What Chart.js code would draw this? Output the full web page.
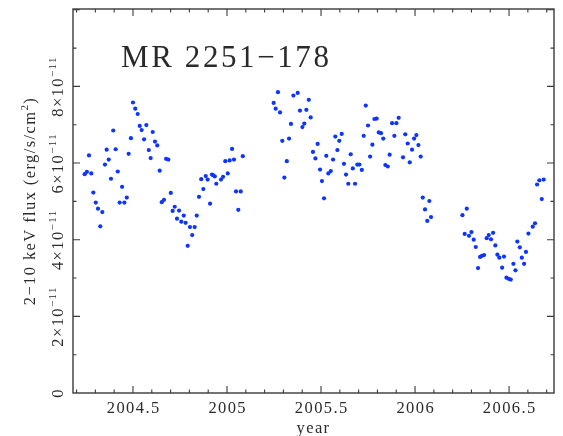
<!DOCTYPE html>
<html>
<head>
<meta charset="utf-8">
<script src="https://cdn.jsdelivr.net/npm/chart.js@4"></script>
<style>
  html, body { margin: 0; padding: 0; background: #fff; }
  #lc { display: block; }
</style>
</head>
<body>
<canvas id="lc" width="563" height="436"></canvas>
<script>
// MR 2251-178 light curve, 2-10 keV
const sourceName = 'MR 2251\u2212178';
const xTitle = 'year';
const yTitleMain = '2\u221210 keV flux (erg/s/cm';
const yTitleSup = '2';
const yTitleEnd = ')';

const xTickYears = [2004.5, 2005, 2005.5, 2006, 2006.5];
const yTickFlux = [0, 2, 4, 6, 8];   // units of 1e-11
const yTickExp = '\u221211';

const years = [
  2004.243, 2004.255, 2004.266, 2004.278, 2004.289, 2004.302, 2004.314, 2004.326, 2004.337, 2004.351,
  2004.360, 2004.371, 2004.383, 2004.395, 2004.408, 2004.419, 2004.429, 2004.442, 2004.454, 2004.467,
  2004.477, 2004.489, 2004.500, 2004.512, 2004.525, 2004.536, 2004.546, 2004.559, 2004.571, 2004.584,
  2004.594, 2004.605, 2004.617, 2004.629, 2004.642, 2004.653, 2004.665, 2004.676, 2004.688, 2004.701,
  2004.711, 2004.722, 2004.734, 2004.745, 2004.757, 2004.770, 2004.780, 2004.791, 2004.803, 2004.815,
  2004.828, 2004.839, 2004.851, 2004.863, 2004.874, 2004.887, 2004.897, 2004.910, 2004.920, 2004.927,
  2004.935, 2004.943, 2004.968, 2004.979, 2004.991, 2005.004, 2005.014, 2005.027, 2005.037, 2005.048,
  2005.060, 2005.073, 2005.084,
  2005.248, 2005.259, 2005.271, 2005.282, 2005.294, 2005.305, 2005.318, 2005.330, 2005.340, 2005.353,
  2005.376, 2005.388, 2005.401, 2005.411, 2005.422, 2005.435, 2005.445, 2005.457, 2005.470, 2005.482,
  2005.495, 2005.505, 2005.516, 2005.528, 2005.539, 2005.552, 2005.564, 2005.576, 2005.587, 2005.597,
  2005.610, 2005.622, 2005.633, 2005.645, 2005.658, 2005.669, 2005.681, 2005.693, 2005.704, 2005.717,
  2005.727, 2005.738, 2005.750, 2005.761, 2005.773, 2005.784, 2005.796, 2005.807, 2005.819, 2005.831,
  2005.842, 2005.855, 2005.865, 2005.878, 2005.890, 2005.901, 2005.913, 2005.936, 2005.948, 2005.961,
  2005.972, 2005.984, 2005.995, 2006.007, 2006.018, 2006.030, 2006.041, 2006.053, 2006.065, 2006.076,
  2006.085,
  2006.252, 2006.264, 2006.275, 2006.287, 2006.300, 2006.312, 2006.323, 2006.335, 2006.346, 2006.356,
  2006.367, 2006.381, 2006.392, 2006.404, 2006.415, 2006.427, 2006.438, 2006.448, 2006.463, 2006.473,
  2006.486, 2006.498, 2006.509, 2006.523, 2006.534, 2006.544, 2006.557, 2006.568, 2006.580, 2006.590,
  2006.603, 2006.626, 2006.638, 2006.649, 2006.661, 2006.674, 2006.684
];

// 2-10 keV flux, 1e-11 erg/s/cm^2
const flux = [
  5.71, 5.77, 6.20, 5.73, 5.23, 4.97, 4.81, 4.35, 4.72, 5.96,
  6.35, 6.09, 5.59, 6.85, 6.36, 5.78, 4.97, 5.38, 4.97, 5.10,
  6.24, 6.65, 7.58, 7.42, 7.28, 6.97, 6.86, 6.62, 6.99, 6.34,
  6.13, 6.81, 6.56, 6.46, 5.80, 4.98, 5.04, 6.11, 6.09, 5.22,
  4.75, 4.86, 4.55, 4.76, 4.47, 4.63, 4.44, 3.84, 4.33, 4.12,
  4.33, 4.63, 5.12, 5.58, 5.32, 5.66, 5.57, 4.94, 5.70, 5.68,
  5.65, 5.46, 5.57, 5.64, 6.05, 5.73, 6.07, 6.37, 6.09, 5.26,
  4.78, 5.26, 6.18,
  7.57, 7.42, 7.85, 7.32, 6.58, 5.62, 6.05, 6.64, 7.02, 7.76,
  7.83, 7.37, 6.94, 7.03, 7.39, 7.65, 7.19, 6.29, 6.12, 6.50,
  5.83, 5.53, 5.08, 6.19, 5.73, 5.79, 6.09, 6.69, 6.34, 6.58,
  6.76, 5.98, 5.70, 5.46, 6.23, 5.86, 5.46, 5.96, 5.96, 5.82,
  6.71, 7.50, 6.98, 6.17, 6.48, 7.15, 7.16, 6.80, 6.78, 6.64,
  5.95, 5.91, 6.22, 7.04, 6.71, 7.04, 7.18, 6.15, 6.75, 6.51,
  6.02, 6.35, 6.64, 6.73, 6.47, 6.17, 5.10, 4.79, 4.49, 5.01,
  4.59,
  4.64, 4.15, 4.81, 4.10, 4.20, 4.00, 3.81, 3.26, 3.55, 3.58,
  3.60, 4.04, 4.12, 4.01, 4.18, 3.85, 3.61, 3.53, 3.27, 3.56,
  3.01, 2.98, 2.96, 3.37, 3.20, 3.95, 3.80, 3.53, 3.37, 3.68,
  4.16, 4.34, 4.43, 5.44, 5.55, 5.06, 5.57
];

const xMin = 2004.181, xMax = 2006.739;
const yMin = 0, yMax = 10.02;

const serif = '"Liberation Serif", "Times New Roman", serif';
const inkColor = '#2a2a2a';

// frame with inward ticks on all four sides, plus all the text
const pgFrame = {
  id: 'pgFrame',
  afterDraw(chart) {
    const { ctx, chartArea: a, scales } = chart;
    const xs = scales.x, ys = scales.y;
    ctx.save();
    ctx.strokeStyle = '#3a3a3a';
    ctx.lineWidth = 1.4;
    ctx.strokeRect(a.left, a.top, a.right - a.left, a.bottom - a.top);

    ctx.lineWidth = 1.1;
    ctx.beginPath();
    // x ticks every 0.1 yr, major every 0.5 yr
    for (let k = Math.ceil(xMin * 10); k <= Math.floor(xMax * 10); k++) {
      const px = xs.getPixelForValue(k / 10);
      const len = (k % 5 === 0) ? 7 : 3.5;
      ctx.moveTo(px, a.bottom); ctx.lineTo(px, a.bottom - len);
      ctx.moveTo(px, a.top); ctx.lineTo(px, a.top + len);
    }
    // y ticks every 1e-11, major every 2e-11
    for (let k = 1; k <= Math.floor(yMax); k++) {
      const py = ys.getPixelForValue(k);
      const len = (k % 2 === 0) ? 7 : 3.5;
      ctx.moveTo(a.left, py); ctx.lineTo(a.left + len, py);
      ctx.moveTo(a.right, py); ctx.lineTo(a.right - len, py);
    }
    ctx.stroke();

    ctx.fillStyle = inkColor;

    // x tick labels
    ctx.font = '16.5px ' + serif;
    ctx.letterSpacing = '1.4px';
    ctx.textAlign = 'center';
    ctx.textBaseline = 'alphabetic';
    xTickYears.forEach(v => {
      ctx.fillText(String(v), xs.getPixelForValue(v) + 0.7, a.bottom + 20);
    });
    ctx.fillText(xTitle, (a.left + a.right) / 2, a.bottom + 40);

    // y tick labels, rotated, with a superscript exponent
    yTickFlux.forEach(v => {
      const py = ys.getPixelForValue(v);
      ctx.save();
      ctx.translate(a.left - 10, py);
      ctx.rotate(-Math.PI / 2);
      ctx.textAlign = 'left';
      if (v === 0) {
        ctx.font = '16.5px ' + serif;
        const w = ctx.measureText('0').width;
        ctx.fillText('0', -w / 2, 0);
      } else {
        const base = v + '\u00d710';
        ctx.font = '16.5px ' + serif;
        const wb = ctx.measureText(base).width;
        ctx.font = '11px ' + serif;
        const we = ctx.measureText(yTickExp).width;
        const x0 = -(wb + we) / 2;
        ctx.font = '16.5px ' + serif;
        ctx.fillText(base, x0, 0);
        ctx.font = '11px ' + serif;
        ctx.fillText(yTickExp, x0 + wb, -7);
      }
      ctx.restore();
    });

    // y axis title
    ctx.save();
    ctx.translate(35, (a.top + a.bottom) / 2);
    ctx.rotate(-Math.PI / 2);
    ctx.textAlign = 'left';
    ctx.font = '16.5px ' + serif;
    const w1 = ctx.measureText(yTitleMain).width;
    const w3 = ctx.measureText(yTitleEnd).width;
    ctx.font = '11px ' + serif;
    const w2 = ctx.measureText(yTitleSup).width;
    let x0 = -(w1 + w2 + w3) / 2;
    ctx.font = '16.5px ' + serif;
    ctx.fillText(yTitleMain, x0, 0);
    ctx.font = '11px ' + serif;
    ctx.fillText(yTitleSup, x0 + w1, -7);
    ctx.font = '16.5px ' + serif;
    ctx.fillText(yTitleEnd, x0 + w1 + w2, 0);
    ctx.restore();

    // source name inside the frame
    ctx.font = '31px ' + serif;
    ctx.letterSpacing = '2.6px';
    ctx.textAlign = 'left';
    ctx.fillText(sourceName, a.left + 48, a.top + 58);
    ctx.restore();
  }
};

new Chart(document.getElementById('lc'), {
  type: 'scatter',
  data: {
    datasets: [{
      data: years.map((t, i) => ({ x: t, y: flux[i] })),
      backgroundColor: '#0d35ff',
      borderWidth: 0,
      pointRadius: 2.1,
      pointHoverRadius: 2.1
    }]
  },
  options: {
    responsive: false,
    animation: false,
    devicePixelRatio: 1,
    layout: { padding: { left: 73, right: 9, top: 9, bottom: 43 } },
    plugins: { legend: { display: false }, tooltip: { enabled: false } },
    scales: {
      x: { type: 'linear', min: xMin, max: xMax, display: false },
      y: { type: 'linear', min: yMin, max: yMax, display: false }
    }
  },
  plugins: [pgFrame]
});
</script>
</body>
</html>
